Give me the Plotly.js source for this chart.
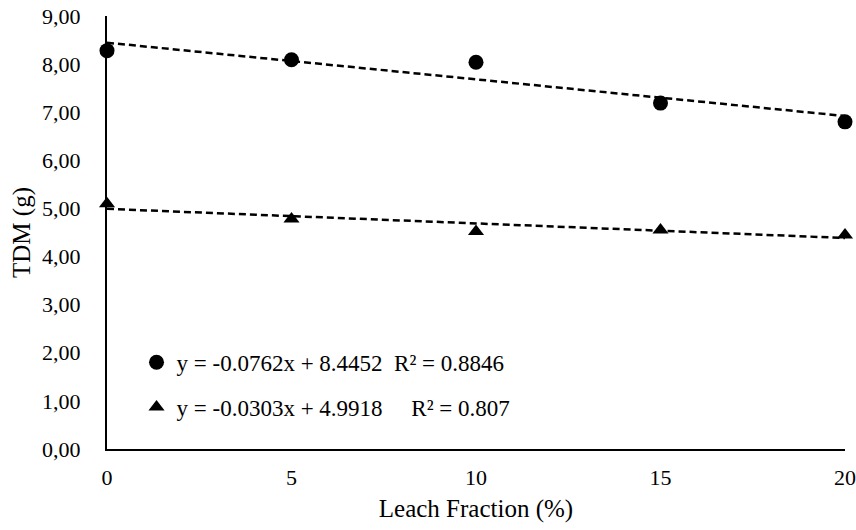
<!DOCTYPE html>
<html>
<head>
<meta charset="utf-8">
<script src="https://cdn.plot.ly/plotly-3.0.1.min.js"></script>
<style>html,body{margin:0;padding:0;background:#fff}#chart{width:856px;height:530px}</style>
</head>
<body>
<div id="chart"></div>
<script>
// Data
const leachFraction = [0, 5, 10, 15, 20];
const tdmCircle = [8.28, 8.09, 8.04, 7.19, 6.80];
const tdmTriangle = [5.10, 4.78, 4.52, 4.55, 4.45];
// Linear trendline coefficients shown in the chart
const circleFit = {slope: -0.0762, intercept: 8.4452};
const triangleFit = {slope: -0.0303, intercept: 4.9918};
const circleLabel = 'y = -0.0762x + 8.4452\u00a0\u00a0R² = 0.8846';
const triangleLabel = 'y = -0.0303x + 4.9918\u00a0\u00a0\u00a0\u00a0\u00a0R² = 0.807';
const xTicks = [0, 5, 10, 15, 20];
const yTicks = [0, 1, 2, 3, 4, 5, 6, 7, 8, 9];

const xEnds = [leachFraction[0], leachFraction[leachFraction.length - 1]];
const fitY = f => xEnds.map(x => f.intercept + f.slope * x);

const font = 'Liberation Serif, Times New Roman, serif';

const traces = [
  {x: xEnds, y: fitY(circleFit), mode: 'lines', line: {color: '#000', width: 2.5, dash: '7px,4px'}, showlegend: false, hoverinfo: 'skip'},
  {x: xEnds, y: fitY(triangleFit), mode: 'lines', line: {color: '#000', width: 2.5, dash: '7px,4px'}, showlegend: false, hoverinfo: 'skip'},
  {x: leachFraction, y: tdmCircle, mode: 'markers', name: circleLabel, legendgroup: 'a',
   marker: {symbol: 'circle', size: 15, color: '#000'}, cliponaxis: false},
  {x: leachFraction, y: tdmTriangle, mode: 'markers', name: triangleLabel, legendgroup: 'b',
   marker: {symbol: 'triangle-up', size: 14, color: '#000'}, cliponaxis: false}
];

const layout = {
  width: 856, height: 530,
  margin: {l: 107, r: 11, t: 16, b: 81},
  paper_bgcolor: '#fff', plot_bgcolor: '#fff',
  separators: ',.',
  font: {family: font, color: '#000', size: 18},
  showlegend: true,
  legend: {x: 0.04, y: 0.25, xanchor: 'left', yanchor: 'top', bgcolor: 'rgba(0,0,0,0)', itemwidth: 30,
           font: {family: font, size: 23, color: '#000'}, tracegroupgap: 12, traceorder: 'grouped'},
  xaxis: {range: [0, 20], tickvals: xTicks, ticktext: xTicks.map(String), showgrid: false, zeroline: false,
          showline: true, linecolor: '#000', linewidth: 2, ticks: '', ticklabelstandoff: 8,
          tickfont: {family: font, size: 22, color: '#000'},
          title: {text: 'Leach Fraction (%)', font: {family: font, size: 25, color: '#000'}, standoff: 10}},
  yaxis: {range: [0, 9], tickvals: yTicks, tickformat: '.2f', showgrid: false, zeroline: false,
          showline: true, linecolor: '#000', linewidth: 2, ticks: '', ticklabelstandoff: 20,
          tickfont: {family: font, size: 22, color: '#000'},
          title: {text: 'TDM (g)', font: {family: font, size: 25, color: '#000'}, standoff: 4}}
};

Plotly.newPlot('chart', traces, layout, {displayModeBar: false, staticPlot: true});
</script>
</body>
</html>
